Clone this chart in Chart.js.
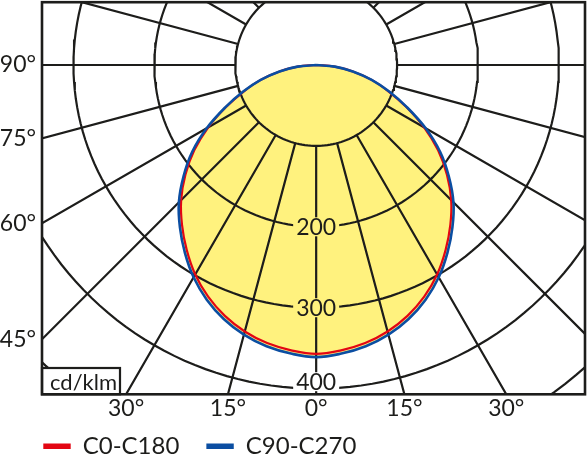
<!DOCTYPE html>
<html>
<head>
<meta charset="utf-8">
<script src="https://cdn.jsdelivr.net/npm/chart.js@4.4.0/dist/chart.umd.min.js"></script>
<style>
  html, body { margin: 0; padding: 0; background: #fff; }
  #wrap { width: 588px; height: 460px; }
</style>
</head>
<body>
<div id="wrap"><canvas id="polar"></canvas></div>
<script>
// intensity in cd/klm, every 5 degrees (symmetric)
const angles = [0, 5, 10, 15, 20, 25, 30, 35, 40, 45, 50, 55, 60, 65, 70, 75, 80, 85, 90];
const c0c180 = [357, 354, 349, 341, 330, 316, 299, 279, 258, 236, 211, 184, 154, 123, 95, 71, 46, 23, 0];
const c90c270 = [361, 358, 353, 345, 334, 320, 303, 283, 262, 240, 214, 187, 156, 124, 96, 71, 46, 23, 0];
const seriesNames = ['C0-C180', 'C90-C270'];

const ringValues = [100, 200, 300, 400, 500, 600];
const ringLabels = ['200', '300', '400'];
const sideTicks = [90, 75, 60, 45];
const bottomTicks = [-30, -15, 0, 15, 30];

// visible window of the polar plane, in cd/klm
const view = { xMin: -338.9, xMax: 332.3, yMin: -407, yMax: 77.6 };

const ink = '#1d1d1b';
const red = '#e30613';
const blue = '#0b4ea2';
const yellow = '#fff27e';
const family = 'Lato, "Open Sans", sans-serif';

const rad = d => d * Math.PI / 180;
const polarPoint = (deg, r) => ({ x: r * Math.sin(rad(deg)), y: -r * Math.cos(rad(deg)) });

function curve(values) {
  const pts = [];
  for (let i = angles.length - 1; i >= 0; i--) pts.push(polarPoint(-angles[i], values[i]));
  for (let i = 1; i < angles.length; i++) pts.push(polarPoint(angles[i], values[i]));
  return pts;
}

const gap = { x: null, y: null };
const rings = [];
ringValues.forEach(r => {
  for (let a = 0; a <= 360; a += 2) rings.push(polarPoint(a, r));
  rings.push(gap);
});
const spokes = [];
for (let a = 0; a < 360; a += 15) {
  spokes.push(polarPoint(a, 100), polarPoint(a, 800), gap);
}

// legend: short box for the layout, then moved to where the reference has it
const legendPlace = {
  id: 'legendPlace',
  beforeInit(chart) {
    const fit = chart.legend.fit;
    chart.legend.fit = function () {
      fit.call(this);
      this.height = 40;
    };
  },
  afterLayout(chart) {
    chart.legend.left = 16.3;
    chart.legend.top = 407.3;
  }
};

const overlay = {
  id: 'overlay',
  afterDatasetsDraw(chart) {
    const { ctx, chartArea: area, scales: { x, y } } = chart;
    ctx.save();
    ctx.font = '23px ' + family;
    ctx.textAlign = 'center';
    ctx.textBaseline = 'middle';
    ringLabels.forEach(label => {
      const r = Number(label);
      const px = x.getPixelForValue(0);
      const py = Math.min(y.getPixelForValue(-r), area.bottom - 12.6);
      const w = ctx.measureText(label).width + 6;
      ctx.fillStyle = r < c90c270[0] ? yellow : '#fff';
      ctx.fillRect(px - w / 2, py - 9.5, w, 19);
      ctx.fillStyle = ink;
      ctx.fillText(label, px, py + 1);
    });

    // unit box
    ctx.fillStyle = '#fff';
    ctx.strokeStyle = ink;
    ctx.lineWidth = 2.2;
    ctx.fillRect(area.left, area.bottom - 26.3, 78, 26.3);
    ctx.strokeRect(area.left, area.bottom - 26.3, 78, 26.3);
    ctx.fillStyle = ink;
    ctx.textAlign = 'left';
    ctx.textBaseline = 'alphabetic';
    ctx.font = '22px ' + family;
    ctx.fillText('cd/klm', area.left + 8, area.bottom - 4.5);

    ctx.lineWidth = 2.6;
    ctx.strokeRect(area.left, area.top, area.right - area.left, area.bottom - area.top);
    ctx.restore();
  }
};

Chart.defaults.font.family = family;
Chart.defaults.color = ink;

new Chart(document.getElementById('polar'), {
  type: 'scatter',
  data: {
    datasets: [
      {
        label: seriesNames[0],
        data: curve(c0c180),
        showLine: true,
        borderColor: red,
        borderWidth: 2.2,
        pointRadius: 0,
        tension: 0.4,
        order: 2
      },
      {
        label: seriesNames[1],
        data: curve(c90c270),
        showLine: true,
        borderColor: blue,
        borderWidth: 2.6,
        backgroundColor: yellow,
        fill: 'shape',
        pointRadius: 0,
        tension: 0.4,
        order: 1
      },
      {
        label: 'rings',
        data: rings,
        showLine: true,
        borderColor: ink,
        borderWidth: 2.2,
        pointRadius: 0,
        spanGaps: false,
        order: 5
      },
      {
        label: 'spokes',
        data: spokes,
        showLine: true,
        borderColor: ink,
        borderWidth: 2.2,
        pointRadius: 0,
        spanGaps: false,
        order: 5
      }
    ]
  },
  options: {
    responsive: true,
    maintainAspectRatio: false,
    animation: false,
    events: [],
    layout: { padding: { left: 0, right: 3, top: 2.2, bottom: 0 } },
    scales: {
      x: {
        type: 'linear',
        min: view.xMin,
        max: view.xMax,
        grid: { display: false, drawTicks: false },
        border: { display: false },
        afterFit: s => {
          s.height = 460 - 40 - 394.3;
          s.paddingLeft = 0;
          s.paddingRight = 0;
        },
        afterBuildTicks: s => {
          s.ticks = bottomTicks.map(a => ({ value: -view.yMin * Math.tan(rad(a)) }));
        },
        ticks: {
          autoSkip: false,
          maxRotation: 0,
          minRotation: 0,
          padding: 2.5,
          font: { size: 23, lineHeight: 1 },
          callback: (v, i) => Math.abs(bottomTicks[i]) + '°'
        }
      },
      y: {
        type: 'linear',
        min: view.yMin,
        max: view.yMax,
        grid: { display: false, drawTicks: false },
        border: { display: false },
        afterFit: s => {
          s.width = 42;
          s.paddingTop = 0;
          s.paddingBottom = 0;
        },
        afterBuildTicks: s => {
          s.ticks = sideTicks.map(a => ({ value: view.xMin * Math.cos(rad(a)) / Math.sin(rad(a)) }));
        },
        ticks: {
          autoSkip: false,
          padding: 6,
          font: { size: 23, lineHeight: 1 },
          callback: (v, i) => sideTicks[i] + '°'
        }
      }
    },
    plugins: {
      filler: { drawTime: 'beforeDatasetsDraw' },
      tooltip: { enabled: false },
      legend: {
        position: 'bottom',
        align: 'start',
        labels: {
          boxWidth: 27.4,
          boxHeight: 5.5,
          padding: 27,
          color: ink,
          font: { size: 24 },
          generateLabels: () => seriesNames.map((name, i) => ({
            text: name,
            fillStyle: i === 0 ? red : blue,
            strokeStyle: i === 0 ? red : blue,
            lineWidth: 0,
            hidden: false,
            datasetIndex: i,
            fontColor: ink
          }))
        }
      }
    }
  },
  plugins: [legendPlace, overlay]
});
</script>
</body>
</html>
